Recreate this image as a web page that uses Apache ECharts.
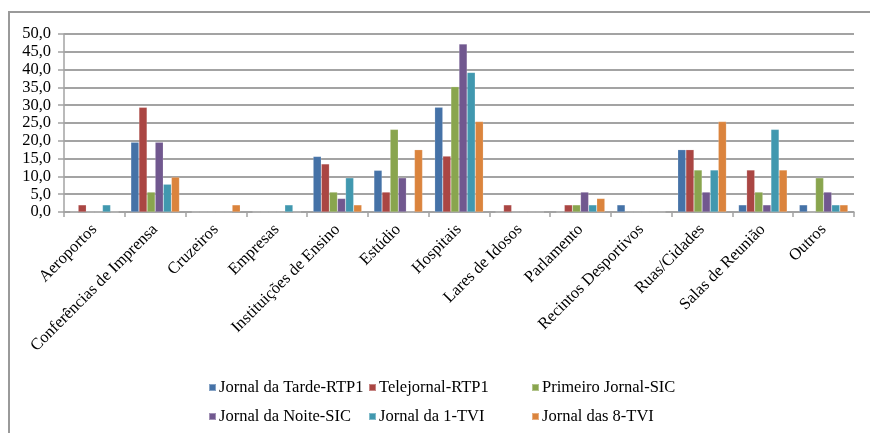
<!DOCTYPE html>
<html>
<head>
<meta charset="utf-8">
<script src="https://cdn.jsdelivr.net/npm/echarts@6/dist/echarts.min.js"></script>
<style>
  html, body { margin: 0; padding: 0; background: #fff; }
  #chart { width: 870px; height: 433px; }
</style>
</head>
<body>
<div id="chart"></div>
<script>
// Locations where the news pieces were recorded
const categories = [
  'Aeroportos', 'Conferências de Imprensa', 'Cruzeiros', 'Empresas',
  'Instituições de Ensino', 'Estúdio', 'Hospitais', 'Lares de Idosos',
  'Parlamento', 'Recintos Desportivos', 'Ruas/Cidades', 'Salas de Reunião', 'Outros'
];

// Share (%) per news programme
const seriesNames = [
  'Jornal da Tarde-RTP1', 'Telejornal-RTP1', 'Primeiro Jornal-SIC',
  'Jornal da Noite-SIC', 'Jornal da 1-TVI', 'Jornal das 8-TVI'
];
const jornalTardeRTP1   = [0,   19.6, 0,   0,   15.6, 11.7, 29.4, 0,   0,   2.0, 17.5, 2.0,  2.0];
const telejornalRTP1    = [2.0, 29.4, 0,   0,   13.5, 5.6,  15.7, 2.0, 2.0, 0,   17.5, 11.8, 0];
const primeiroJornalSIC = [0,   5.6,  0,   0,   5.6,  23.2, 35.2, 0,   2.0, 0,   11.8, 5.6,  9.6];
const jornalNoiteSIC    = [0,   19.6, 0,   0,   3.8,  9.6,  47.2, 0,   5.6, 0,   5.6,  2.0,  5.6];
const jornal1TVI        = [2.0, 7.8,  0,   2.0, 9.6,  0,    39.2, 0,   2.0, 0,   11.8, 23.2, 2.0];
const jornal8TVI        = [0,   9.8,  2.0, 0,   2.0,  17.5, 25.4, 0,   3.8, 0,   25.4, 11.8, 2.0];
const seriesValues = [jornalTardeRTP1, telejornalRTP1, primeiroJornalSIC, jornalNoiteSIC, jornal1TVI, jornal8TVI];

const colors = ['#4572A7', '#AA4643', '#89A54E', '#71588F', '#4198AF', '#DB843D'];
const yTicks = { min: 0, max: 50, step: 5 };

const font = '"Liberation Serif", "DejaVu Serif", serif';
const gridColor = '#a3a3a3';

const chart = echarts.init(document.getElementById('chart'), null, { renderer: 'canvas' });

const legendCol = (left, names) => ({
  left: left, top: 374, orient: 'vertical',
  itemWidth: 7, itemHeight: 7, itemGap: 12, icon: 'rect',
  selectedMode: false,
  data: names,
  textStyle: { fontFamily: font, fontSize: 16.5, color: '#000', padding: [0, 0, 0, -2] }
});

chart.setOption({
  animation: false,
  color: colors,
  graphic: [{
    type: 'rect',
    shape: { x: 9, y: 12, width: 900, height: 500 },
    style: { fill: 'none', stroke: '#9a9a9a', lineWidth: 2 },
    silent: true, z: -1
  }],
  grid: { left: 64, right: 16, top: 34, bottom: 221, containLabel: false },
  legend: [
    legendCol(203, [seriesNames[0], seriesNames[3]]),
    legendCol(363, [seriesNames[1], seriesNames[4]]),
    legendCol(526, [seriesNames[2], seriesNames[5]])
  ],
  xAxis: {
    type: 'category',
    data: categories,
    axisLine: { show: true, lineStyle: { color: gridColor, width: 1.5 } },
    axisTick: { show: true, length: 5, alignWithLabel: false, lineStyle: { color: gridColor, width: 1.5 } },
    axisLabel: {
      interval: 0, rotate: 45, margin: 15,
      fontFamily: font, fontSize: 16.5, color: '#000'
    },
    splitLine: { show: false }
  },
  yAxis: {
    type: 'value',
    min: yTicks.min, max: yTicks.max, interval: yTicks.step,
    axisLine: { show: true, lineStyle: { color: gridColor, width: 1.5 } },
    axisTick: { show: true, length: 6, lineStyle: { color: gridColor, width: 1.5 } },
    axisLabel: {
      margin: 13, fontFamily: font, fontSize: 16.5, color: '#000',
      formatter: v => v.toFixed(1).replace('.', ',')
    },
    splitLine: { show: true, lineStyle: { color: gridColor, width: 1.8 } }
  },
  series: seriesNames.map((name, i) => ({
    name: name,
    type: 'bar',
    data: seriesValues[i],
    barGap: '0%',
    barCategoryGap: '20%',
    itemStyle: { color: colors[i], borderColor: 'rgba(255,255,255,0.35)', borderWidth: 0.5 }
  }))
});
</script>
</body>
</html>
